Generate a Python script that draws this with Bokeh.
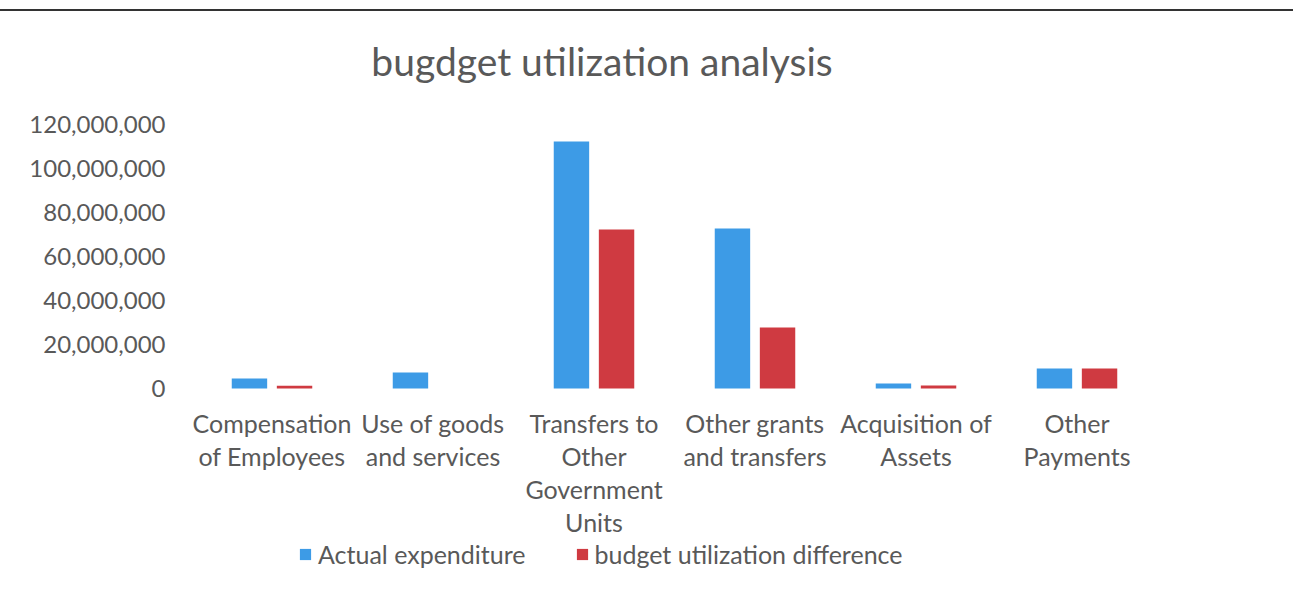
from bokeh.plotting import figure
from bokeh.models import FactorRange, ColumnDataSource, Legend, LegendItem, Div, NumeralTickFormatter, FixedTicker
from bokeh.transform import dodge
from bokeh.layouts import column
from bokeh.core.properties import value
from bokeh.embed import file_html
from bokeh.resources import INLINE

categories = ["Compensation of Employees", "Use of goods and services",
              "Transfers to Other Government Units", "Other grants and transfers",
              "Acquisition of Assets", "Other Payments"]
category_labels = ["Compensation\nof Employees", "Use of goods\nand services",
                   "Transfers to\nOther\nGovernment\nUnits", "Other grants\nand transfers",
                   "Acquisition of\nAssets", "Other\nPayments"]
actual_expenditure = [4500000, 7300000, 112300000, 72700000, 2300000, 9100000]
utilization_difference = [1300000, 0, 72300000, 27700000, 1400000, 9100000]
y_ticks = [0, 20000000, 40000000, 60000000, 80000000, 100000000, 120000000]
title_text = "bugdget utilization analysis"

BLUE = "#3d9be6"
RED = "#cf3a41"
GREY = "#595959"
FONT = "Lato"

# layout geometry (pixels)
FIG_H = 570
FRAME_TOP_TO_MAX = 113      # px from frame top to 120M
PLOT_H = 264                # px for 0..120M
ymax = y_ticks[-1]
per_px = ymax / PLOT_H
y_top = ymax + FRAME_TOP_TO_MAX * per_px
y_bot = -(FIG_H - FRAME_TOP_TO_MAX - PLOT_H) * per_px

src = ColumnDataSource(dict(cat=categories, actual=actual_expenditure, diff=utilization_difference))
lab_src = ColumnDataSource(dict(cat=categories, label=category_labels,
                                y=[-19 * per_px] * len(categories)))
title_src = ColumnDataSource(dict(cat=[categories[2]], label=[title_text],
                                  y=[(PLOT_H + 64) * per_px]))

p = figure(x_range=FactorRange(factors=categories, range_padding=0), y_range=(y_bot, y_top),
           width=1293, height=FIG_H, output_backend="svg", toolbar_location=None,
           x_axis_location=None,
           min_border_left=191, min_border_right=136, min_border_top=0, min_border_bottom=0)

r1 = p.vbar(x=dodge("cat", -0.14, range=p.x_range), top="actual", width=0.22, source=src,
            color=BLUE, line_color=None)
r2 = p.vbar(x=dodge("cat", 0.14, range=p.x_range), top="diff", width=0.22, source=src,
            color=RED, line_color=None)

p.text(x="cat", y="y", text="label", source=lab_src, text_align="center", text_baseline="top",
       text_font=value(FONT), text_font_size="25px", text_color=GREY, text_line_height=1.1)
p.text(x="cat", y="y", text="label", source=title_src, x_offset=8, text_align="center",
       text_baseline="middle", text_font=value(FONT), text_font_size="39px", text_color=GREY)

p.xgrid.visible = False
p.ygrid.visible = False
p.outline_line_color = None

p.yaxis.ticker = FixedTicker(ticks=y_ticks)
p.yaxis.formatter = NumeralTickFormatter(format="0,0")
p.yaxis.axis_line_color = None
p.yaxis.major_tick_line_color = None
p.yaxis.minor_tick_line_color = None
p.yaxis.major_label_text_font = FONT
p.yaxis.major_label_text_font_size = "24px"
p.yaxis.major_label_text_color = GREY
p.yaxis.major_label_standoff = 20

legend = Legend(items=[LegendItem(label="Actual expenditure", renderers=[r1]),
                       LegendItem(label="budget utilization difference", renderers=[r2])],
                orientation="horizontal", location=(107, 12), border_line_color=None,
                label_text_font=FONT, label_text_font_size="25px", label_text_color=GREY,
                glyph_width=14, glyph_height=14, spacing=49, label_standoff=6,
                padding=2, margin=0, background_fill_alpha=0)
p.add_layout(legend, "center")

top_line = Div(text="", width=1293, height=2, margin=(9, 0, 0, 0),
               styles={"background-color": "#333333"})

layout = column(top_line, p, spacing=0)
open("out.html", "w").write(file_html(layout, INLINE))
